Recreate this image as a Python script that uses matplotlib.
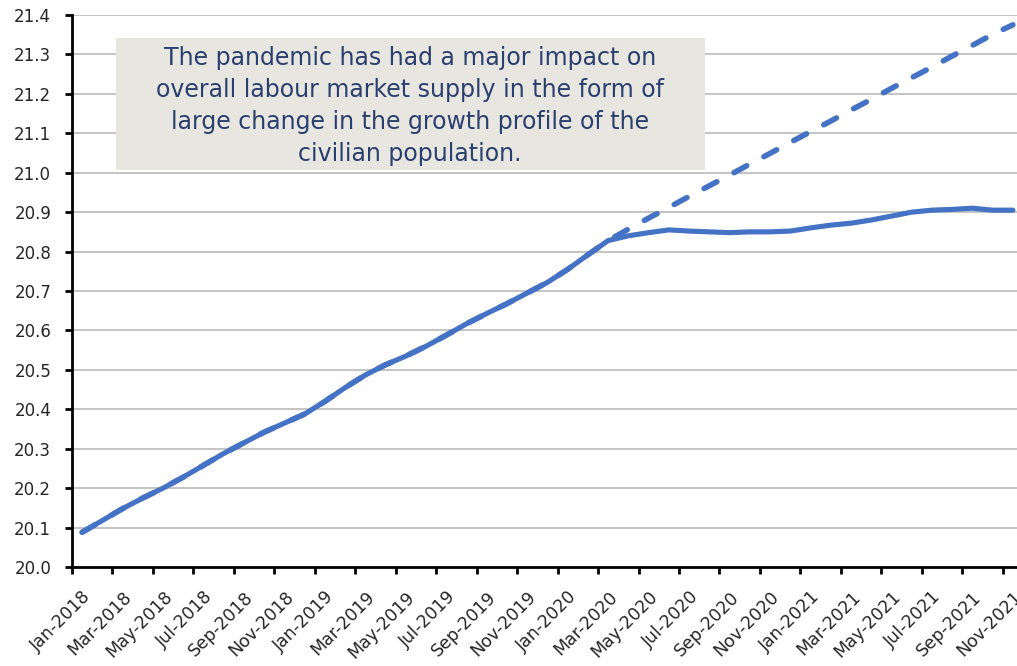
import matplotlib
matplotlib.use('Agg')
from matplotlib import pyplot as plt
from matplotlib.patches import Rectangle

months = ['Jan', 'Feb', 'Mar', 'Apr', 'May', 'Jun', 'Jul', 'Aug', 'Sep', 'Oct', 'Nov', 'Dec']
dates = [m + '-' + str(y) for y in [2018, 2019, 2020, 2021] for m in months][:47]

population = [20.088, 20.118, 20.148, 20.175, 20.20, 20.228, 20.258, 20.288, 20.315, 20.342,
              20.365, 20.388, 20.42, 20.455, 20.487, 20.513, 20.535, 20.56, 20.588, 20.617,
              20.643, 20.668, 20.695, 20.722, 20.755, 20.792, 20.828, 20.84, 20.848, 20.855,
              20.852, 20.85, 20.848, 20.85, 20.85, 20.852, 20.86, 20.867, 20.872, 20.88,
              20.89, 20.90, 20.905, 20.907, 20.91, 20.905, 20.905]

trend = [20.088, 20.118, 20.148, 20.175, 20.20, 20.228, 20.258, 20.288, 20.315, 20.342,
         20.365, 20.388, 20.42, 20.455, 20.487, 20.513, 20.535, 20.56, 20.588, 20.617,
         20.643, 20.668, 20.695, 20.722, 20.755, 20.792, 20.828, 20.857, 20.885, 20.912,
         20.94, 20.967, 20.994, 21.022, 21.049, 21.077, 21.104, 21.131, 21.159, 21.186,
         21.214, 21.241, 21.268, 21.296, 21.323, 21.351, 21.375]

note = ('The pandemic has had a major impact on\n'
        'overall labour market supply in the form of\n'
        'large change in the growth profile of the\n'
        'civilian population.')

W, H = 1017, 666
fig = plt.figure(figsize=(W / 100, H / 100), dpi=100)
ax = fig.add_axes([72 / W, 99 / H, 951 / W, 552 / H])

blue = '#4472C4'
x = list(range(len(dates)))
ax.plot(x, trend, color=blue, lw=4.0, ls=(0, (2.6, 3.5)), dash_capstyle='round', zorder=3)
ax.plot(x, population, color=blue, lw=3.7, solid_capstyle='round', zorder=4)

ax.set_xlim(-0.5, len(dates) - 0.5)
ax.set_ylim(20.0, 21.4)
ax.set_yticks([20.0 + 0.1 * k for k in range(15)])
ax.set_yticklabels(['%.1f' % (20.0 + 0.1 * k) for k in range(15)])

ax.set_xticks([k - 0.5 for k in range(0, len(dates), 2)])
ax.set_xticklabels([])
ax.set_xticks(list(range(0, len(dates), 2)), minor=True)
ax.set_xticklabels(dates[::2], minor=True, rotation=45, ha='right',
                   rotation_mode='anchor')
ax.tick_params(axis='x', which='minor', length=0, pad=15, labelsize=12.5,
               labelcolor='#262626')
ax.tick_params(axis='both', which='major', direction='out', length=5, width=2, color='black')
ax.tick_params(axis='y', pad=10, labelsize=12, labelcolor='#262626')

ax.grid(axis='y', color='#B4B4B4', lw=1.1)
ax.set_axisbelow(True)
for s in ['top', 'right']:
    ax.spines[s].set_visible(False)
for s in ['left', 'bottom']:
    ax.spines[s].set_linewidth(2)
    ax.spines[s].set_color('black')
    ax.spines[s].set_zorder(5)

fig.patches.append(Rectangle((116 / W, 1 - 170 / H), (705 - 116) / W, (170 - 38) / H,
                             transform=fig.transFigure, facecolor='#E7E6E1',
                             edgecolor='none', zorder=6))
fig.text(410 / W, 1 - 106 / H, note, ha='center', va='center', fontsize=17,
         color='#2B3F6E', linespacing=1.42, zorder=7)

plt.savefig('out.png', dpi=100)
